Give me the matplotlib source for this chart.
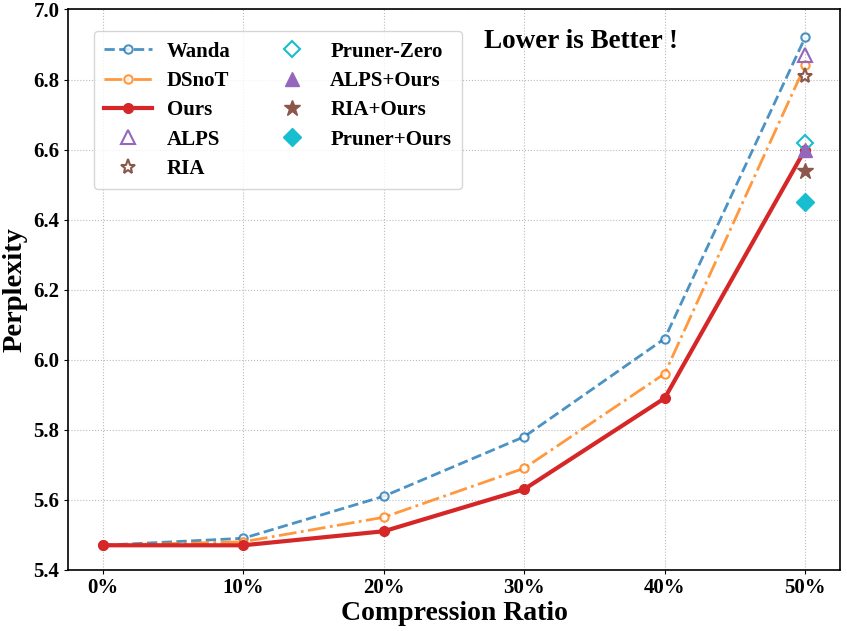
import matplotlib
matplotlib.use("Agg")
import matplotlib.pyplot as plt
import numpy as np

plt.rcParams['font.family'] = ['Liberation Serif', 'DejaVu Serif']
plt.rcParams['font.weight'] = 'bold'

# data
ratios = ['0%', '10%', '20%', '30%', '40%', '50%']
wanda = [5.47, 5.49, 5.61, 5.78, 6.06, 6.92]
dsnot = [5.47, 5.48, 5.55, 5.69, 5.96, 6.84]
ours = [5.47, 5.47, 5.51, 5.63, 5.89, 6.60]
alps = 6.87
ria = 6.81
pruner_zero = 6.62
alps_ours = 6.60
ria_ours = 6.54
pruner_ours = 6.45

x = np.arange(len(ratios))
last = x[-1]

fig, ax = plt.subplots(figsize=(8.47, 6.31), dpi=100)

ax.plot(x, wanda, '--o', color='#1f77b4', alpha=0.8, lw=2, ms=6,
        mfc='white', mew=1.5, label='Wanda')
ax.plot(x, dsnot, '-.o', color='#ff7f0e', alpha=0.8, lw=2, ms=6,
        mfc='white', mew=1.5, label='DSnoT')
ax.plot(x, ours, '-o', color='#d62728', lw=3, ms=7, label='Ours')
ax.plot(last, alps, '^', color='#9467bd', mfc='none', ms=10, mew=1.5,
        ls='none', label='ALPS')
ax.plot(last, ria, '*', color='#8c564b', mfc='none', ms=11, mew=1.5,
        ls='none', label='RIA')
ax.plot(last, pruner_zero, 'D', color='#17becf', mfc='none', ms=8, mew=1.5,
        ls='none', label='Pruner-Zero')
ax.plot(last, alps_ours, '^', color='#9467bd', ms=10, ls='none',
        label='ALPS+Ours')
ax.plot(last, ria_ours, '*', color='#8c564b', ms=12, ls='none',
        label='RIA+Ours')
ax.plot(last, pruner_ours, 'D', color='#17becf', ms=9, ls='none',
        label='Pruner+Ours')

ax.set_xticks(x)
ax.set_xticklabels(ratios)
ax.set_ylim(5.4, 7.0)
ax.set_yticks(np.arange(5.4, 7.01, 0.2))
ax.tick_params(labelsize=15, length=3, pad=3)
for lab in ax.get_xticklabels() + ax.get_yticklabels():
    lab.set_fontweight('bold')

ax.set_xlabel('Compression Ratio', fontsize=20, fontweight='bold')
ax.set_ylabel('Perplexity', fontsize=20.5, fontweight='bold')
ax.xaxis.set_label_coords(0.5, -0.056)
ax.yaxis.set_label_coords(-0.052, 0.5)
ax.grid(True, ls=':', color='#bbbbbb', lw=0.8)
for s in ax.spines.values():
    s.set_linewidth(1.2)

ax.text(0.665, 0.942, 'Lower is Better !', transform=ax.transAxes,
        fontsize=19.5, fontweight='bold', ha='center', va='center')

ax.legend(loc='upper left', bbox_to_anchor=(0.02, 0.98), ncol=2,
          prop={'weight': 'bold', 'size': 15},
          handlelength=2.3, handletextpad=0.7, columnspacing=1.8,
          labelspacing=0.45, borderpad=0.5)

plt.subplots_adjust(left=0.08, right=0.992, top=0.985, bottom=0.097)
plt.savefig('out.png', dpi=100)
